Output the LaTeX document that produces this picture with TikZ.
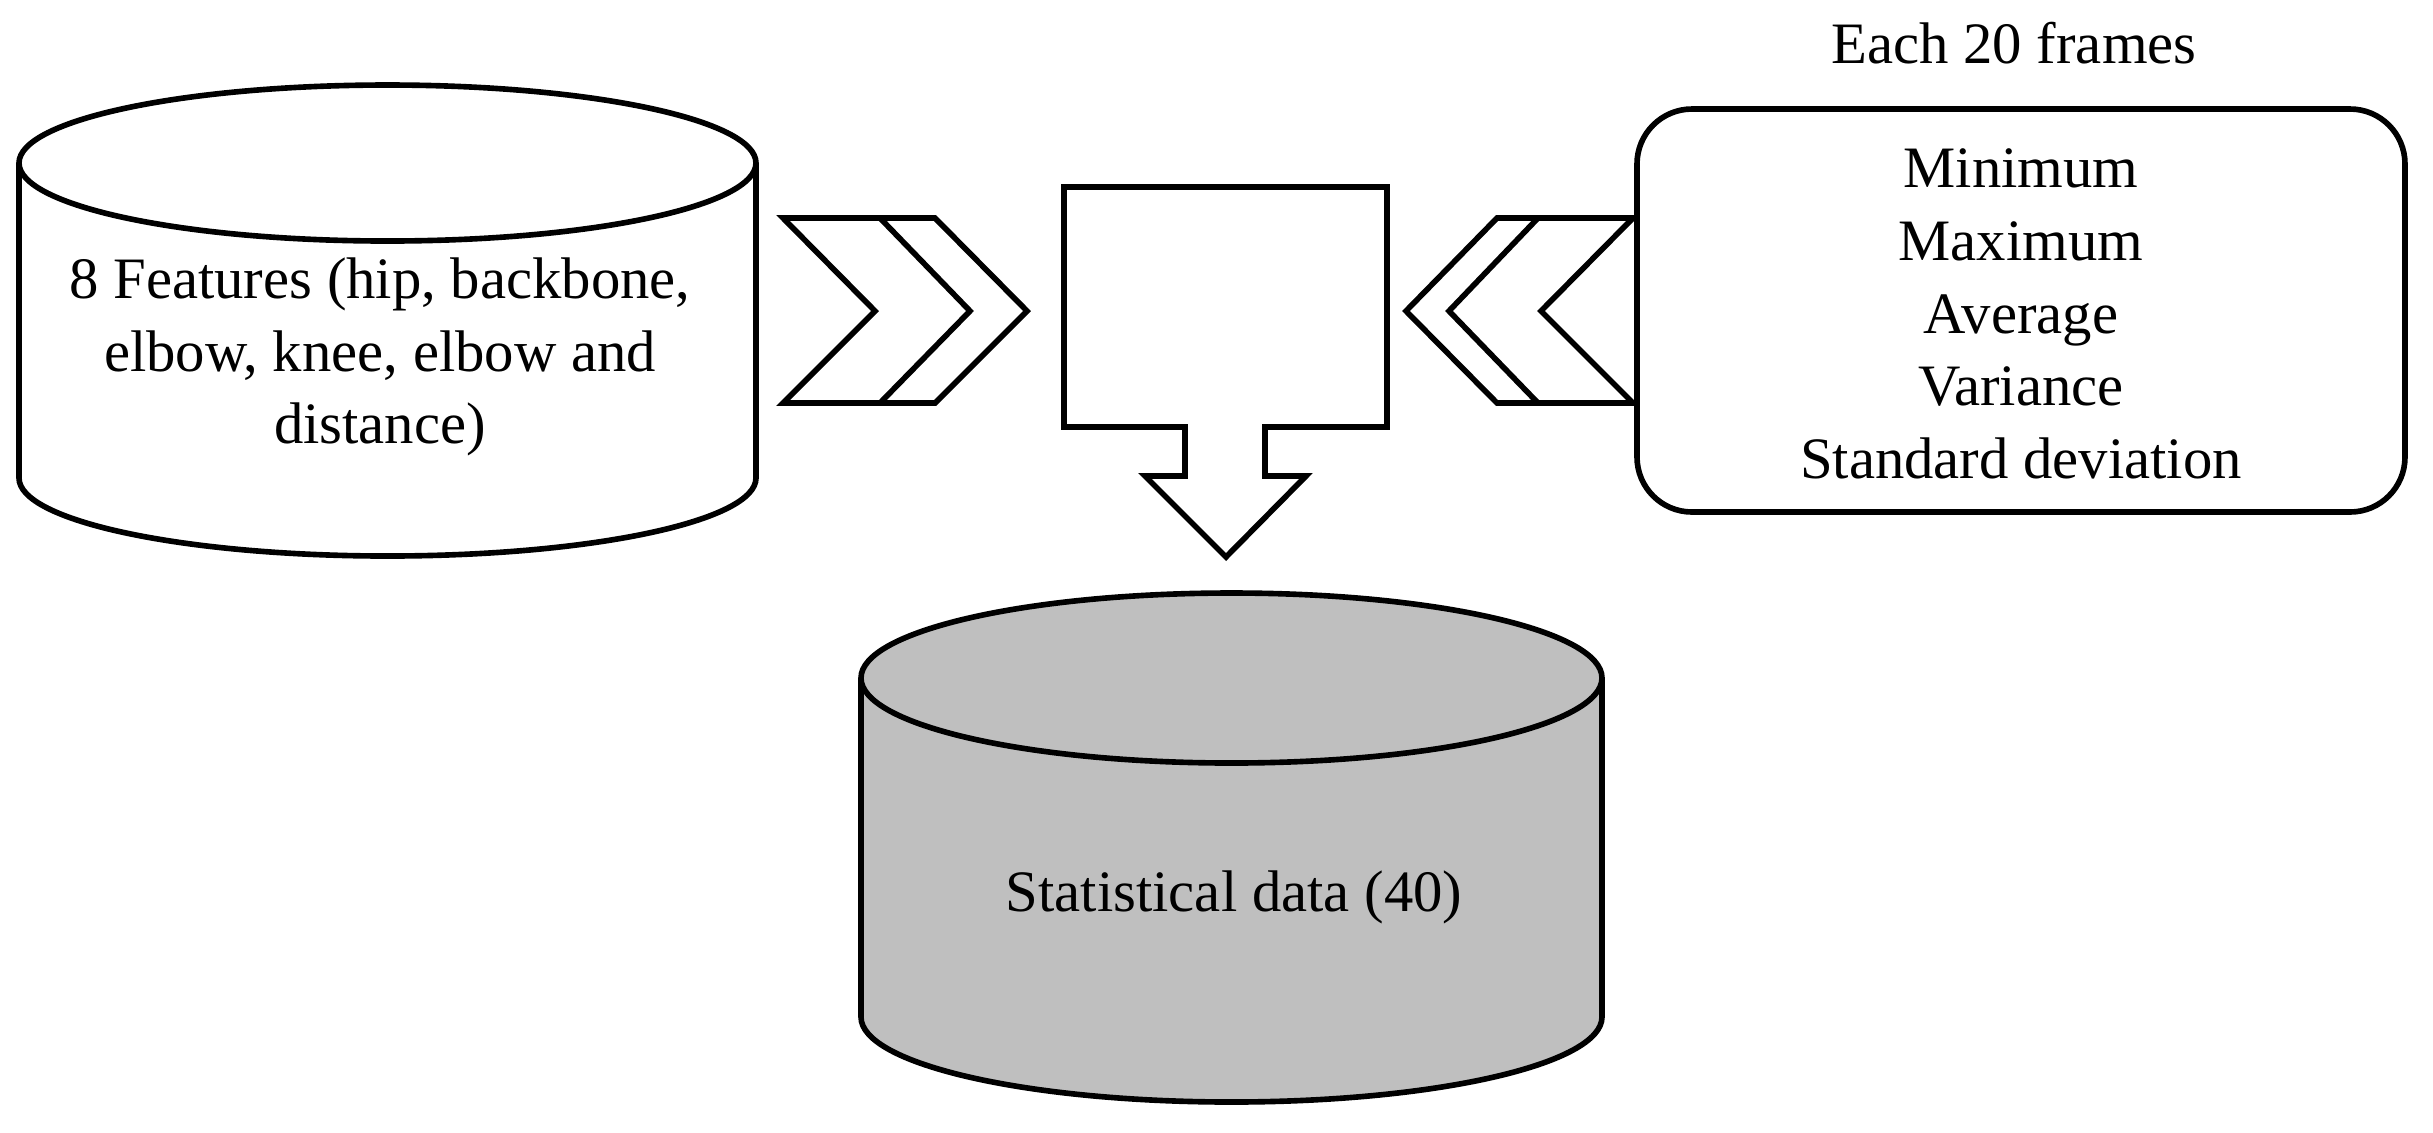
\documentclass[tikz,border=0pt]{standalone}
\usepackage{fontspec}
\setmainfont{Liberation Serif}
\begin{document}
\begin{tikzpicture}[x=0.1mm, y=-0.1mm, line width=1.6pt, line join=miter,
    lbl/.style={font=\fontsize{16.7}{20.7}\selectfont, align=center},
    shade/.style={fill=gray!50}]
    \useasboundingbox (0,0) rectangle (2433,1132);

    % left cylinder
    \draw (19,163) -- (19,478) arc[start angle=180, end angle=0, x radius=368.5, y radius=78] -- (756,163);
    \draw (387.5,163) ellipse[x radius=368.5, y radius=78];
    \node [lbl] (feat) at (380,357) {8 Features (hip, backbone,\\elbow, knee, elbow and\\distance)};

    % chevrons (right)
    \draw (783,218) -- (935,218) -- (1027,311) -- (935,403) -- (783,403) -- (875,311) -- cycle;
    \draw (880,218) -- (970,311) -- (880,403);

    % square with down arrow
    \draw (1064,187) -- (1387,187) -- (1387,427) -- (1265,427) -- (1265,476) -- (1306,476)
        -- (1226,557) -- (1145,476) -- (1185,476) -- (1185,427) -- (1064,427) -- cycle;

    % chevrons (left)
    \draw (1633,218) -- (1497,218) -- (1406,311) -- (1497,403) -- (1633,403) -- (1541,311) -- cycle;
    \draw (1538,218) -- (1449,311) -- (1538,403);

    % statistics box
    \draw [rounded corners=5.5mm] (1637,109) rectangle (2405,512);
    \node [lbl] (stat) at (2021,314)
        {Minimum\\Maximum\\Average\\Variance\\Standard deviation};
    \node [lbl] (each) at (2014,43) {Each 20 frames};

    % bottom cylinder
    \draw [shade] (861,678) -- (861,1017) arc[start angle=180, end angle=0, x radius=370.5, y radius=85] -- (1602,678);
    \draw [shade] (1231.5,678) ellipse[x radius=370.5, y radius=85];
    \node [lbl] (data) at (1234,897) {Statistical data (40)};
\end{tikzpicture}
\end{document}
